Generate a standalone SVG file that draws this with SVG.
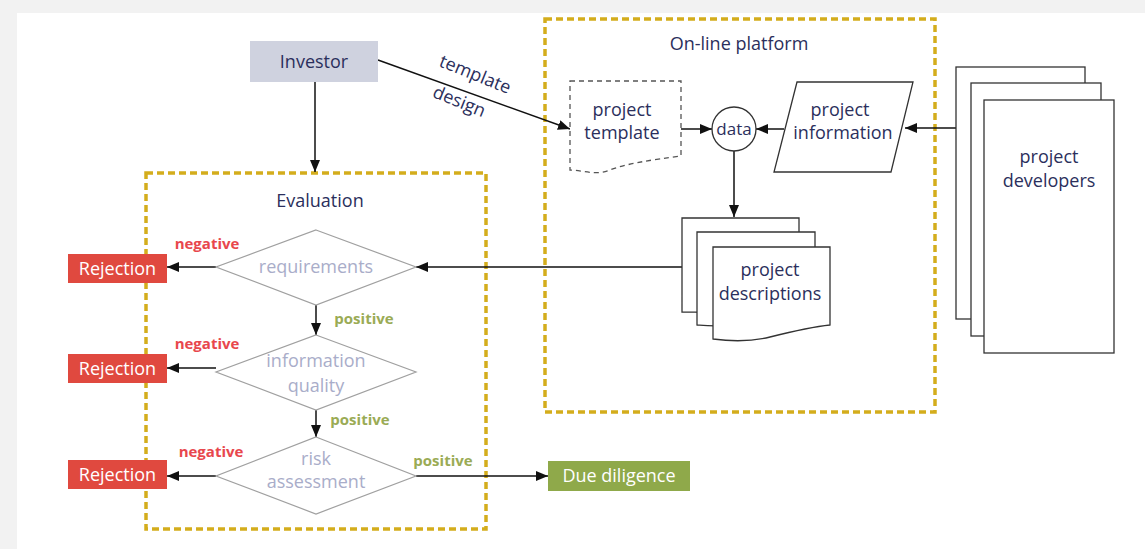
<svg xmlns="http://www.w3.org/2000/svg" width="1145" height="549" viewBox="0 0 1145 549">
  <style>
    .lbl { font-family: "Open Sans", "Noto Sans", "DejaVu Sans", sans-serif; font-size: 18px; fill: #2b2f5c; text-anchor: middle; }
    .small { font-size: 17px; }
    .dlbl { font-family: "Open Sans", "Noto Sans", sans-serif; font-size: 18px; fill: #a9adc9; text-anchor: middle; }
    .rej { font-family: "Open Sans", "Noto Sans", sans-serif; font-size: 18px; fill: #ffffff; text-anchor: middle; }
    .neg { font-family: "Open Sans", "Noto Sans", sans-serif; font-size: 15px; font-weight: bold; fill: #e8474d; text-anchor: middle; }
    .pos { font-family: "Open Sans", "Noto Sans", sans-serif; font-size: 15px; font-weight: bold; fill: #9aab55; text-anchor: middle; }
    .zone { fill: none; stroke: #d4ad1c; stroke-width: 3.5; stroke-dasharray: 7 4; }
    .shape { fill: #ffffff; stroke: #333333; stroke-width: 1.3; }
    .diamond { fill: #ffffff; stroke: #a0a0a0; stroke-width: 1.2; }
    .edge { fill: none; stroke: #111111; stroke-width: 1.5; }
  </style>
  <defs>
    <marker id="arrow" viewBox="0 0 12 10" refX="12" refY="5" markerWidth="12" markerHeight="10" markerUnits="userSpaceOnUse" orient="auto">
      <path d="M0,0 L12,5 L0,10 Z" fill="#111111"/>
    </marker>
  </defs>

  <!-- page background -->
  <rect x="0" y="0" width="1145" height="549" fill="#f2f2f2"/>
  <rect x="17" y="13" width="1128" height="536" fill="#ffffff"/>

  <!-- dashed zones -->
  <g id="zone-platform">
    <rect class="zone" x="545" y="19" width="390" height="393"/>
    <text class="lbl" x="739" y="50">On-line platform</text>
  </g>
  <g id="zone-evaluation">
    <rect class="zone" x="146" y="173" width="340" height="356"/>
    <text class="lbl" x="320" y="207">Evaluation</text>
  </g>

  <!-- connectors -->
  <g id="connectors">
    <line class="edge" x1="315" y1="82" x2="315" y2="172" marker-end="url(#arrow)"/>
    <line class="edge" x1="378" y1="60" x2="570" y2="129" marker-end="url(#arrow)"/>
    <line class="edge" x1="681" y1="129" x2="712" y2="129" marker-end="url(#arrow)"/>
    <line class="edge" x1="784" y1="129" x2="756" y2="129" marker-end="url(#arrow)"/>
    <line class="edge" x1="956" y1="128" x2="905" y2="128" marker-end="url(#arrow)"/>
    <line class="edge" x1="734" y1="151" x2="734" y2="217" marker-end="url(#arrow)"/>
    <line class="edge" x1="682" y1="267" x2="416" y2="267" marker-end="url(#arrow)"/>
    <line class="edge" x1="216" y1="267" x2="167" y2="267" marker-end="url(#arrow)"/>
    <line class="edge" x1="316" y1="305" x2="316" y2="335" marker-end="url(#arrow)"/>
    <line class="edge" x1="216" y1="368" x2="167" y2="368" marker-end="url(#arrow)"/>
    <line class="edge" x1="316" y1="410" x2="316" y2="437" marker-end="url(#arrow)"/>
    <line class="edge" x1="216" y1="476" x2="167" y2="476" marker-end="url(#arrow)"/>
    <line class="edge" x1="416" y1="476" x2="548" y2="476" marker-end="url(#arrow)"/>
    <!-- edge labels -->
    <text class="lbl" transform="translate(473,80) rotate(22)">template</text>
    <text class="lbl" transform="translate(457,107) rotate(22)">design</text>
    <text class="neg" x="207" y="249">negative</text>
    <text class="neg" x="207" y="349">negative</text>
    <text class="neg" x="211" y="457">negative</text>
    <text class="pos" x="364" y="324">positive</text>
    <text class="pos" x="360" y="425">positive</text>
    <text class="pos" x="443" y="466">positive</text>
  </g>

  <!-- nodes -->
  <g id="investor">
    <rect x="250" y="41" width="128" height="41" fill="#cfd2df"/>
    <text class="lbl" x="314" y="68">Investor</text>
  </g>

  <g id="project-template">
    <path d="M570,81 L681,81 L681,156 C650,160 625,164 610,170 C595,176 582,170 570,170 Z" fill="#ffffff" stroke="#555555" stroke-width="1.3" stroke-dasharray="5 4"/>
    <text class="lbl" x="622" y="116">project</text>
    <text class="lbl" x="622" y="139">template</text>
  </g>

  <g id="data">
    <circle class="shape" cx="734" cy="129" r="22"/>
    <text class="lbl small" x="734" y="135">data</text>
  </g>

  <g id="project-information">
    <polygon class="shape" points="797,82 913,82 891,172 774,172"/>
    <text class="lbl" x="840" y="116">project</text>
    <text class="lbl" x="843" y="139">information</text>
  </g>

  <g id="project-descriptions">
    <path class="shape" d="M682,218 L799,218 L799,296 C780,298 760,304 745,309 C730,314 700,312 682,312 Z"/>
    <path class="shape" d="M697,232 L815,232 L815,310 C796,312 776,318 761,323 C746,328 715,326 697,325 Z"/>
    <path class="shape" d="M713,247 L830,247 L830,325 C810,327 790,332 770,337 C750,342 728,341 713,339 Z"/>
    <text class="lbl" x="770" y="276">project</text>
    <text class="lbl" x="770" y="300">descriptions</text>
  </g>

  <g id="project-developers">
    <rect class="shape" x="956" y="67" width="129" height="252"/>
    <rect class="shape" x="971" y="83" width="130" height="253"/>
    <rect class="shape" x="984" y="100" width="130" height="253"/>
    <text class="lbl" x="1049" y="163">project</text>
    <text class="lbl" x="1049" y="187">developers</text>
  </g>

  <g id="requirements">
    <polygon class="diamond" points="316,230 416,267 316,305 216,267"/>
    <text class="dlbl" x="316" y="273">requirements</text>
  </g>

  <g id="information-quality">
    <polygon class="diamond" points="316,335 416,372 316,410 216,372"/>
    <text class="dlbl" x="316" y="367">information</text>
    <text class="dlbl" x="316" y="392">quality</text>
  </g>

  <g id="risk-assessment">
    <polygon class="diamond" points="316,437 416,476 316,514 216,476"/>
    <text class="dlbl" x="316" y="465">risk</text>
    <text class="dlbl" x="316" y="488">assessment</text>
  </g>

  <g id="rejection-1">
    <rect x="68" y="254" width="99" height="29" fill="#e0493f"/>
    <text class="rej" x="117.5" y="275">Rejection</text>
  </g>
  <g id="rejection-2">
    <rect x="68" y="354" width="99" height="29" fill="#e0493f"/>
    <text class="rej" x="117.5" y="375">Rejection</text>
  </g>
  <g id="rejection-3">
    <rect x="68" y="460" width="99" height="29" fill="#e0493f"/>
    <text class="rej" x="117.5" y="481">Rejection</text>
  </g>

  <g id="due-diligence">
    <rect x="548" y="461" width="142" height="30" fill="#8fa94a"/>
    <text class="rej" x="619" y="482">Due diligence</text>
  </g>
</svg>
